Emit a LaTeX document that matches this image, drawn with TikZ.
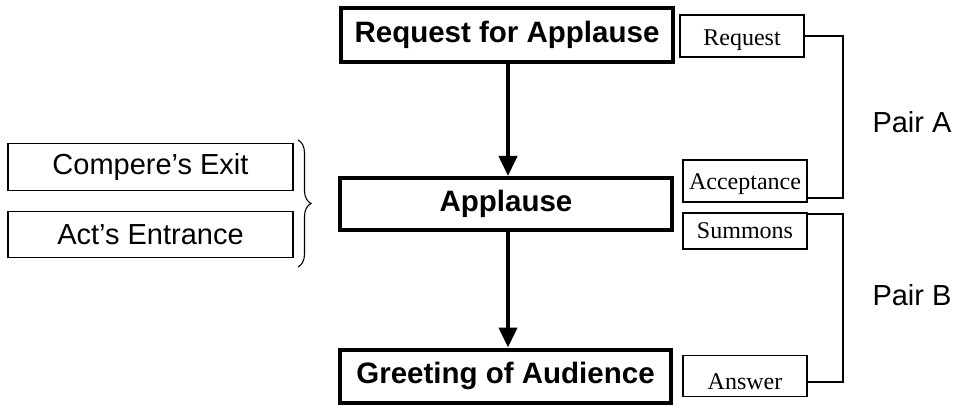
\documentclass[tikz,border=0pt]{standalone}
\usepackage{fontspec}
\setmainfont{Liberation Serif}
\setsansfont{Liberation Sans}
\usetikzlibrary{arrows.meta,decorations.pathreplacing}
\begin{document}
\begin{tikzpicture}[x=1pt,y=-1pt,
  mainbox/.style={draw,line width=4pt,inner sep=0pt,font=\sffamily\bfseries\fontsize{29.5}{31}\selectfont},
  sidebox/.style={draw,line width=1.3pt,inner sep=0pt,font=\sffamily\fontsize{29}{31}\selectfont},
  smallbox/.style={draw,line width=1.3pt,inner sep=0pt,font=\rmfamily\fontsize{24}{26}\selectfont},
  flow/.style={line width=4pt,-{Triangle[length=20pt,width=18pt]}},
  pairline/.style={line width=1.3pt},
  pairlabel/.style={font=\sffamily\fontsize{29}{31}\selectfont}]
\useasboundingbox (0,0) rectangle (958,406);
% main boxes
\node[mainbox,minimum width=332pt,minimum height=54pt] (req) at (507,35) {Request for Applause};
\node[mainbox,minimum width=332pt,minimum height=52pt] (app) at (506,204) {Applause};
\node[mainbox,minimum width=331pt,minimum height=53pt] (greet) at (505.5,376) {Greeting of Audience};
\draw[flow] (req.south -| 508,0) -- (app.north -| 508,0);
\draw[flow] (app.south -| 508,0) -- (greet.north -| 508,0);
% left boxes
\node[sidebox,minimum width=285pt,minimum height=47pt] (exit) at (150.5,167) {Compere’s Exit};
\node[sidebox,minimum width=285pt,minimum height=46pt] (ent) at (150.5,234.5) {Act’s Entrance};
\coordinate (bt) at (298,140);
\coordinate (bb) at (298,267);
\draw[line width=1.1pt,decorate,decoration={brace,amplitude=13pt}] (bt) -- (bb);
% small boxes
\node[smallbox,minimum width=124pt,minimum height=42pt,text height=19pt,text depth=0pt] (rq) at (742,36) {Request};
\node[smallbox,minimum width=124pt,minimum height=42pt,text height=17pt,text depth=0pt] (acc) at (745,181) {Acceptance};
\node[smallbox,minimum width=124pt,minimum height=36pt] (sum) at (745,231) {Summons};
\node[smallbox,minimum width=124pt,minimum height=41pt,text height=26pt,text depth=0pt] (ans) at (745,376) {Answer};
% pair brackets
\coordinate (pa) at (843,0);
\draw[pairline] (rq.east) -- (rq.east -| pa) -- ([yshift=-17pt]acc.east -| pa) -- ([yshift=-17pt]acc.east);
\draw[pairline] ([yshift=17pt]sum.east) -- ([yshift=17pt]sum.east -| pa) -- ([yshift=-6pt]ans.east -| pa) -- ([yshift=-6pt]ans.east);
\node[pairlabel] (pA) at (912,122) {Pair A};
\node[pairlabel] (pB) at (912,295) {Pair B};
\end{tikzpicture}
\end{document}
